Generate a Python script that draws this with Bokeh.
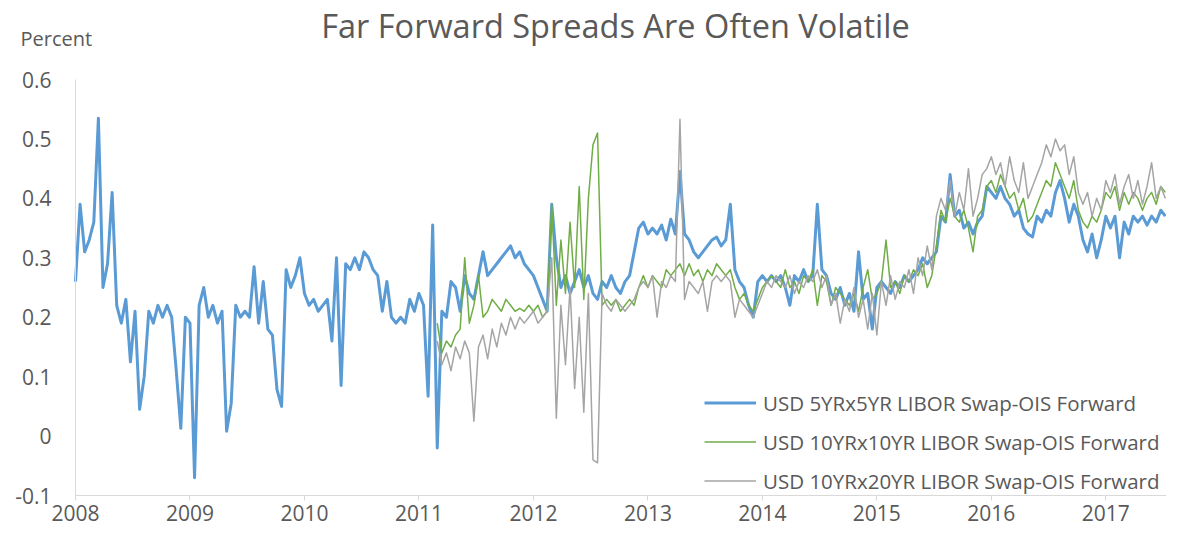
import numpy as np
from bokeh.plotting import figure
from bokeh.models import (Range1d, FixedTicker, CustomJSTickFormatter, Label,
                          Legend, LegendItem)
from bokeh.embed import file_html
from bokeh.resources import INLINE

FONT = "Open Sans"
TEXT = "#595959"

chart_title = "Far Forward Spreads Are Often Volatile"
y_unit = "Percent"
series_names = ["USD 5YRx5YR LIBOR Swap-OIS Forward",
                "USD 10YRx10YR LIBOR Swap-OIS Forward",
                "USD 10YRx20YR LIBOR Swap-OIS Forward"]
series_colors = ["#5b9bd5", "#70ad47", "#a5a5a5"]
x_ticks = [2008, 2009, 2010, 2011, 2012, 2013, 2014, 2015, 2016, 2017]
y_ticks = [-0.1, 0.0, 0.1, 0.2, 0.3, 0.4, 0.5, 0.6]
x_first, x_last = 2008.0, 2017.53
y_first, y_last = -0.1, 0.6

# samples every 1/25 year starting January 2008
start_year = 2008.0
samples_per_year = 25
fwd_start_index = 79  # first sample of the 10Y forward series (early 2011)

usd_5x5 = [
    # 2008
    0.26, 0.39, 0.31, 0.33, 0.36, 0.535, 0.25, 0.29, 0.41, 0.22, 0.19, 0.23, 0.125,
    0.21, 0.045, 0.10, 0.21, 0.19, 0.22, 0.20, 0.22, 0.20, 0.11, 0.013, 0.20,
    # 2009
    0.19, -0.07, 0.22, 0.25, 0.20, 0.22, 0.19, 0.21, 0.008, 0.055, 0.22, 0.20, 0.21,
    0.20, 0.285, 0.19, 0.26, 0.18, 0.17, 0.078, 0.05, 0.28, 0.25, 0.27, 0.30,
    # 2010
    0.24, 0.22, 0.23, 0.21, 0.22, 0.23, 0.16, 0.30, 0.085, 0.29, 0.28, 0.30, 0.28,
    0.31, 0.30, 0.28, 0.27, 0.21, 0.26, 0.20, 0.19, 0.20, 0.19, 0.23, 0.21,
    # 2011
    0.24, 0.22, 0.067, 0.355, -0.02, 0.21, 0.20, 0.26, 0.25, 0.21, 0.27, 0.24, 0.23,
    0.27, 0.31, 0.27, 0.28, 0.29, 0.30, 0.31, 0.32, 0.30, 0.31, 0.29, 0.28,
    # 2012
    0.27, 0.25, 0.23, 0.21, 0.39, 0.30, 0.25, 0.27, 0.24, 0.26, 0.28, 0.25, 0.27,
    0.24, 0.23, 0.26, 0.25, 0.27, 0.25, 0.24, 0.26, 0.27, 0.31, 0.35, 0.36,
    # 2013
    0.34, 0.35, 0.34, 0.355, 0.33, 0.365, 0.34, 0.445, 0.34, 0.33, 0.31, 0.30, 0.31,
    0.32, 0.33, 0.335, 0.32, 0.33, 0.39, 0.28, 0.26, 0.25, 0.22, 0.20, 0.26,
    # 2014
    0.27, 0.26, 0.27, 0.26, 0.27, 0.25, 0.22, 0.27, 0.26, 0.28, 0.26, 0.27, 0.39,
    0.28, 0.27, 0.24, 0.23, 0.25, 0.22, 0.24, 0.21, 0.31, 0.23, 0.24, 0.18,
    # 2015
    0.25, 0.26, 0.25, 0.24, 0.26, 0.25, 0.27, 0.26, 0.27, 0.28, 0.30, 0.29, 0.30,
    0.31, 0.37, 0.36, 0.44, 0.37, 0.38, 0.35, 0.36, 0.34, 0.36, 0.37, 0.42,
    # 2016
    0.41, 0.40, 0.42, 0.40, 0.39, 0.37, 0.38, 0.35, 0.34, 0.335, 0.37, 0.36, 0.38,
    0.37, 0.41, 0.43, 0.40, 0.36, 0.39, 0.37, 0.33, 0.31, 0.34, 0.30, 0.33,
    # 2017
    0.37, 0.35, 0.37, 0.30, 0.36, 0.34, 0.37, 0.36, 0.37, 0.355, 0.37, 0.36, 0.38, 0.37,
]

usd_10x10 = [
    # 2011
    0.19, 0.14, 0.16, 0.15, 0.17, 0.18, 0.30, 0.19, 0.22, 0.27, 0.20, 0.21, 0.23,
    0.22, 0.21, 0.23, 0.22, 0.21, 0.215, 0.21, 0.22,
    # 2012
    0.21, 0.22, 0.20, 0.21, 0.39, 0.22, 0.33, 0.24, 0.36, 0.25, 0.42, 0.23, 0.40,
    0.49, 0.51, 0.22, 0.23, 0.22, 0.23, 0.21, 0.22, 0.23, 0.22, 0.25, 0.27,
    # 2013
    0.25, 0.27, 0.26, 0.25, 0.28, 0.27, 0.28, 0.29, 0.27, 0.29, 0.27, 0.28, 0.26,
    0.28, 0.27, 0.29, 0.28, 0.27, 0.28, 0.25, 0.23, 0.24, 0.22, 0.21, 0.23,
    # 2014
    0.25, 0.26, 0.27, 0.26, 0.25, 0.28, 0.25, 0.26, 0.24, 0.27, 0.26, 0.28, 0.22,
    0.27, 0.26, 0.22, 0.25, 0.24, 0.23, 0.22, 0.24, 0.21, 0.25, 0.28, 0.23,
    # 2015
    0.24, 0.26, 0.33, 0.25, 0.26, 0.24, 0.27, 0.26, 0.28, 0.27, 0.29, 0.25, 0.27,
    0.32, 0.38, 0.36, 0.40, 0.37, 0.36, 0.38, 0.35, 0.31, 0.37, 0.38, 0.42,
    # 2016
    0.43, 0.41, 0.44, 0.42, 0.40, 0.41, 0.38, 0.40, 0.36, 0.37, 0.39, 0.41, 0.43,
    0.42, 0.46, 0.44, 0.42, 0.40, 0.43, 0.38, 0.36, 0.35, 0.37, 0.36, 0.38,
    # 2017
    0.41, 0.40, 0.42, 0.38, 0.41, 0.39, 0.41, 0.40, 0.38, 0.40, 0.41, 0.39, 0.42, 0.41,
]

usd_10x20 = [
    # 2011
    0.16, 0.12, 0.14, 0.11, 0.15, 0.13, 0.16, 0.14, 0.025, 0.15, 0.17, 0.13, 0.18,
    0.15, 0.19, 0.17, 0.20, 0.18, 0.20, 0.19, 0.20,
    # 2012
    0.21, 0.19, 0.20, 0.21, 0.30, 0.03, 0.22, 0.12, 0.25, 0.08, 0.20, 0.04, 0.24,
    -0.04, -0.045, 0.24, 0.22, 0.21, 0.23, 0.22, 0.21, 0.22, 0.23, 0.25, 0.26,
    # 2013
    0.25, 0.27, 0.20, 0.26, 0.25, 0.27, 0.26, 0.533, 0.23, 0.26, 0.25, 0.24, 0.26,
    0.21, 0.26, 0.27, 0.26, 0.27, 0.26, 0.20, 0.23, 0.22, 0.21, 0.20, 0.22,
    # 2014
    0.24, 0.26, 0.25, 0.27, 0.26, 0.25, 0.27, 0.24, 0.26, 0.25, 0.27, 0.26, 0.28,
    0.25, 0.27, 0.22, 0.24, 0.19, 0.23, 0.21, 0.25, 0.20, 0.23, 0.18, 0.24,
    # 2015
    0.17, 0.26, 0.22, 0.27, 0.23, 0.26, 0.25, 0.28, 0.24, 0.30, 0.27, 0.32, 0.28,
    0.37, 0.40, 0.38, 0.43, 0.37, 0.41, 0.38, 0.45, 0.37, 0.40, 0.44, 0.45,
    # 2016
    0.47, 0.44, 0.46, 0.42, 0.47, 0.43, 0.41, 0.46, 0.40, 0.42, 0.44, 0.46, 0.49,
    0.47, 0.50, 0.48, 0.49, 0.44, 0.47, 0.41, 0.39, 0.41, 0.37, 0.40, 0.38,
    # 2017
    0.43, 0.41, 0.44, 0.39, 0.42, 0.44, 0.40, 0.43, 0.39, 0.42, 0.46, 0.40, 0.42, 0.40,
]

x_5x5 = start_year + np.arange(len(usd_5x5)) / samples_per_year
x_fwd = start_year + (fwd_start_index + np.arange(len(usd_10x10))) / samples_per_year

# ---- layout (pixels); the frame covers the whole canvas, axes sit inside it ----
W, H = 1166, 527
PLOT_LEFT = 75         # where 2008 / the value axis sits
PLOT_TOP = 79          # where 0.6 sits
PLOT_BOTTOM = 495      # where -0.1 / the year axis sits
px_per_year = (W - PLOT_LEFT) / (x_last - x_first)
px_per_unit = (PLOT_BOTTOM - PLOT_TOP) / (y_last - y_first)
x_range = Range1d(x_first - PLOT_LEFT / px_per_year, x_last)
y_range = Range1d(y_first - (H - PLOT_BOTTOM) / px_per_unit,
                  y_last + PLOT_TOP / px_per_unit)

p = figure(width=W, height=H, output_backend="svg", toolbar_location=None,
           x_range=x_range, y_range=y_range,
           min_border_left=0, min_border_right=0, min_border_top=0,
           min_border_bottom=0, outline_line_color=None,
           background_fill_color="white", border_fill_color="white")

r1 = p.line(x_5x5, usd_5x5, line_color=series_colors[0], line_width=3, line_join="round")
r2 = p.line(x_fwd, usd_10x10, line_color=series_colors[1], line_width=1.5, line_join="round")
r3 = p.line(x_fwd, usd_10x20, line_color=series_colors[2], line_width=1.5, line_join="round")

p.xgrid.visible = False
p.ygrid.visible = False

for ax in (p.xaxis[0], p.yaxis[0]):
    ax.axis_line_color = "#d9d9d9"
    ax.axis_line_width = 1
    ax.minor_tick_line_color = None
    ax.major_label_text_font = FONT
    ax.major_label_text_font_size = "21px"
    ax.major_label_text_color = TEXT

p.xaxis.ticker = FixedTicker(ticks=x_ticks)
p.xaxis.formatter = CustomJSTickFormatter(code="return tick.toFixed(0);")
p.xaxis.fixed_location = y_first
p.xaxis.bounds = (x_first, x_last)
p.xaxis.major_tick_line_color = "#d9d9d9"
p.xaxis.major_tick_out = 5
p.xaxis.major_tick_in = 0
p.xaxis.major_label_standoff = 4

p.yaxis.ticker = FixedTicker(ticks=y_ticks)
p.yaxis.formatter = CustomJSTickFormatter(
    code="return Math.abs(tick) < 1e-9 ? '0' : tick.toFixed(1);")
p.yaxis.fixed_location = x_first
p.yaxis.bounds = (y_first, y_last)
p.yaxis.major_tick_line_color = None
p.yaxis.major_tick_out = 0
p.yaxis.major_tick_in = 0
p.yaxis.major_label_standoff = 24

# title and unit label (screen units: from frame left / frame bottom)
p.add_layout(Label(x=615, y=H - 25, x_units="screen", y_units="screen",
                   text=chart_title, text_align="center", text_baseline="middle",
                   text_font=FONT, text_font_size="32.5px", text_color=TEXT))
p.add_layout(Label(x=20, y=H - 38, x_units="screen", y_units="screen",
                   text=y_unit, text_align="left", text_baseline="middle",
                   text_font=FONT, text_font_size="20px", text_color=TEXT))

legend = Legend(items=[LegendItem(label=series_names[0], renderers=[r1]),
                       LegendItem(label=series_names[1], renderers=[r2]),
                       LegendItem(label=series_names[2], renderers=[r3])],
                location=(704, 32), border_line_color=None, background_fill_alpha=0,
                padding=0, margin=0, spacing=10, glyph_width=52, glyph_height=29,
                label_height=29, label_standoff=7, label_text_font=FONT,
                label_text_font_size="20.5px", label_text_color=TEXT)
p.add_layout(legend)

open("out.html", "w").write(file_html(p, INLINE))
